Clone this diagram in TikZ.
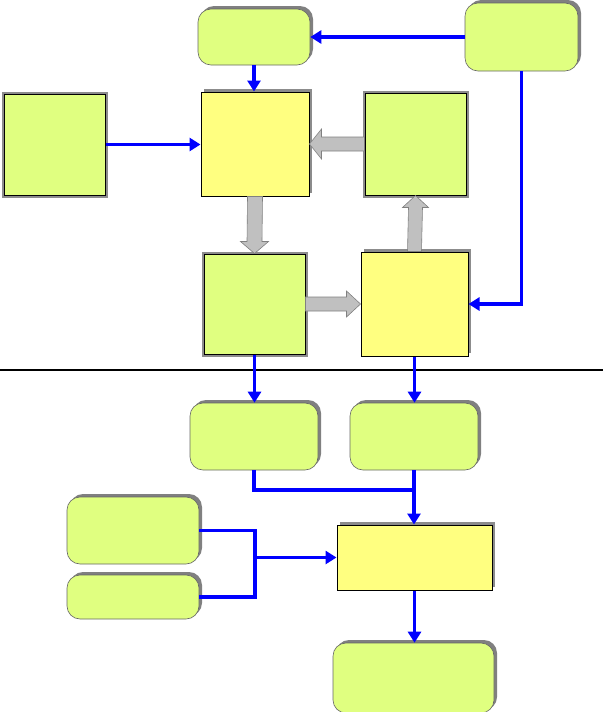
\documentclass[tikz,border=0pt]{standalone}
\usetikzlibrary{calc,shadows,arrows.meta}
\definecolor{boxgreen}{HTML}{E0FF80}
\definecolor{boxyellow}{HTML}{FFFF80}
\definecolor{blkfill}{HTML}{C0C0C0}
\definecolor{blkline}{HTML}{808080}
\tikzset{
  rbox/.style={rectangle, rounded corners=13pt, fill=boxgreen, draw=black!60, line width=0.6pt,
    drop shadow={shadow xshift=3pt, shadow yshift=3pt, fill=black!50, opacity=1}, inner sep=0pt},
  gbox/.style={rectangle, fill=boxgreen, draw=black, line width=1pt, inner sep=0pt,
    preaction={draw=black!45, line width=5pt}},
  ybox/.style={rectangle, fill=boxyellow, draw=black, line width=1pt, inner sep=0pt,
    drop shadow={shadow xshift=3pt, shadow yshift=3pt, fill=black!45, opacity=1}},
  bl/.style={draw=blue, line width=3.8pt},
  bla/.style={bl, -{Triangle[length=11pt,width=13pt]}},
  blk/.style={fill=blkfill, draw=blkline, line width=0.6pt},
}
\begin{document}
\begin{tikzpicture}[x=1pt,y=-1pt]
\useasboundingbox (0,0) rectangle (603,712);
% rounded boxes
\node[rbox, minimum width=112pt, minimum height=56pt] (t1) at (254,37) {};
\node[rbox, minimum width=113pt, minimum height=68pt] (t2) at (521.5,37) {};
\node[rbox, minimum width=128pt, minimum height=67pt] (m1) at (254,436.5) {};
\node[rbox, minimum width=128pt, minimum height=67pt] (m2) at (414,436.5) {};
\node[rbox, minimum width=132pt, minimum height=67pt] (l1) at (133,530.5) {};
\node[rbox, minimum width=132pt, minimum height=44pt] (l2) at (133,597) {};
\node[rbox, minimum width=161pt, minimum height=70pt] (b) at (413.5,678) {};
% rectangles
\node[gbox, minimum width=101pt, minimum height=101pt] (L) at (54.5,144.5) {};
\node[ybox, minimum width=108pt, minimum height=104pt] (C) at (255,144) {};
\node[gbox, minimum width=101pt, minimum height=102pt] (R) at (415.5,144) {};
\node[gbox, minimum width=101pt, minimum height=100pt] (BL) at (254.5,304) {};
\node[ybox, minimum width=107pt, minimum height=104pt] (BR) at (414.5,304) {};
\node[ybox, minimum width=155pt, minimum height=65pt] (W) at (414.5,557.5) {};
% separator
\coordinate (s1) at (0,370);
\coordinate (s2) at (603,370);
\draw[line width=1.2pt] (s1) -- (s2);
% block arrows
\draw[blk] ($(R.west)+(0,-7)$) -- ($(C.east)+(12,-7)$) -- ($(C.east)+(12,-15)$) -- (C.east)
  -- ($(C.east)+(12,15)$) -- ($(C.east)+(12,7)$) -- ($(R.west)+(0,7)$) -- cycle;
\draw[blk] ($(C.south)+(-7.5,0)$) -- ($(BL.north)+(-7.5,-12)$) -- ($(BL.north)+(-14,-12)$) -- (BL.north)
  -- ($(BL.north)+(14,-12)$) -- ($(BL.north)+(7.5,-12)$) -- ($(C.south)+(7.5,0)$) -- cycle;
\draw[blk] ($(BL.east)+(0,-7)$) -- ($(BR.west)+(-14,-7)$) -- ($(BR.west)+(-14,-13)$) -- (BR.west)
  -- ($(BR.west)+(-14,13)$) -- ($(BR.west)+(-14,7)$) -- ($(BL.east)+(0,7)$) -- cycle;
\draw[blk] ($(BR.north)+(-7,0)$) -- ($(R.south)+(-7,12)$) -- ($(R.south)+(-13,12)$) -- (R.south)
  -- ($(R.south)+(13,12)$) -- ($(R.south)+(7,12)$) -- ($(BR.north)+(7,0)$) -- cycle;
% blue connectors
\draw[bla] (t2.west) -- (t1.east);
\draw[bla] (t1.south) -- (t1.south |- C.north);
\draw[bla] (L.east) -- (L.east -| C.west);
\draw[bla] (t2.south) |- (BR.east);
\draw[bla] (BL.south) -- (BL.south |- m1.north);
\draw[bla] (BR.south) -- (BR.south |- m2.north);
\coordinate (j1) at ($(m2.south)+(0,20)$);
\draw[bl] (m1.south) |- (j1);
\draw[bla] (m2.south) -- (m2.south |- W.north);
\coordinate (j2) at (255,557.5);
\draw[bl] (l1.east) -| (j2);
\draw[bl] (l2.east) -| (j2);
\draw[bla] (j2) -- (W.west);
\draw[bla] (W.south) -- (W.south |- b.north);
\end{tikzpicture}
\end{document}
